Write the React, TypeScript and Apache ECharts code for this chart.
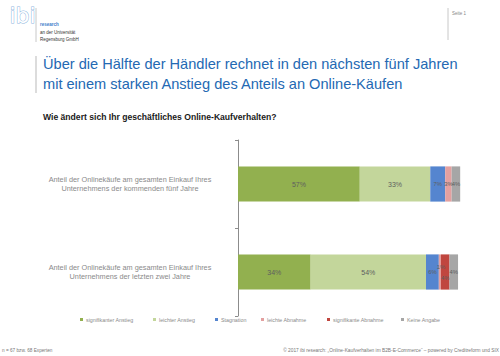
import React, { useEffect, useRef } from "react";
import * as echarts from "echarts";

const categories = [
  "Anteil der Onlinekäufe am gesamten Einkauf Ihres\nUnternehmens der kommenden fünf Jahre",
  "Anteil der Onlinekäufe am gesamten Einkauf Ihres\nUnternehmens der letzten zwei Jahre",
];
const seriesNames = [
  "signifikanter Anstieg",
  "leichter Anstieg",
  "Stagnation",
  "leichte Abnahme",
  "signifikante Abnahme",
  "Keine Angabe",
];
const signifikanterAnstieg = [57, 34];
const leichterAnstieg = [33, 54];
const stagnation = [7, 6];
const leichteAbnahme = [3, 1];
const signifikanteAbnahme = [0, 4];
const keineAngabe = [4, 4];
const seriesValues = [
  signifikanterAnstieg,
  leichterAnstieg,
  stagnation,
  leichteAbnahme,
  signifikanteAbnahme,
  keineAngabe,
];
const colors = ["#92b04f", "#c3d69b", "#5585cf", "#e3a0a0", "#c0463f", "#a6a6a6"];
const legendX = [80, 153, 215, 261, 327, 401];

const titleLines = [
  "Über die Hälfte der Händler rechnet in den nächsten fünf Jahren",
  "mit einem starken Anstieg des Anteils an Online-Käufen",
];
const subtitle = "Wie ändert sich Ihr geschäftliches Online-Kaufverhalten?";
const footerLeft = "n = 67 bzw. 68 Experten";
const footerRight =
  "© 2017 ibi research: „Online-Kaufverhalten im B2B-E-Commerce“ – powered by Creditreform und SIX";

export default function App() {
  const ref = useRef<HTMLDivElement>(null);
  useEffect(() => {
    if (!ref.current) return;
    const chart = echarts.init(ref.current, undefined, { renderer: "svg" });
    const font = "Liberation Sans, Arial, sans-serif";
    const shifts: Record<string, [number, number]> = {
      "3-1": [1, -5],
      "4-1": [0, 6],
    };
    chart.setOption({
      animation: false,
      textStyle: { fontFamily: font },
      grid: { left: 238, right: 27, top: 140, bottom: 40 },
      xAxis: { type: "value", min: 0, max: 110, show: false },
      yAxis: {
        type: "category",
        inverse: true,
        data: categories,
        axisLine: { show: true, lineStyle: { color: "#8c8c8c", width: 1 } },
        axisTick: { show: true, length: 3, lineStyle: { color: "#8c8c8c" } },
        axisLabel: {
          align: "center",
          margin: 108,
          fontSize: 7.3,
          lineHeight: 9,
          color: "#8a8a8a",
          fontFamily: font,
        },
      },
      legend: seriesNames.map((n, i) => ({
        data: [n],
        left: legendX[i],
        top: 317,
        icon: "rect",
        itemWidth: 3,
        itemHeight: 3,
        itemGap: 0,
        padding: 0,
        textStyle: { fontSize: 5.3, color: "#8a8a8a", fontFamily: font, padding: [0, 0, 0, -2] },
      })),
      series: seriesNames.map((n, i) => ({
        name: n,
        type: "bar",
        stack: "total",
        barWidth: "40%",
        data: seriesValues[i].map((v) => (v === 0 ? null : v)),
        itemStyle: { color: colors[i] },
        label: {
          show: true,
          position: "inside",
          formatter: "{c}%",
          fontSize: i >= 2 ? 5.8 : 7,
          color: "#5f5f5f",
          fontFamily: font,
          overflow: "none",
        },
        labelLayout: (p: any) => {
          const s = shifts[p.seriesIndex + "-" + p.dataIndex];
          return s ? { dx: s[0], dy: s[1], hideOverlap: false } : { hideOverlap: false };
        },
      })),
      graphic: [
        {
          type: "text",
          left: 9,
          top: 4,
          style: {
            text: "ibi",
            font: "22px 'DejaVu Sans', sans-serif",
            fill: "#ffffff",
            stroke: "#8fb6de",
            lineWidth: 1,
          },
        },
        { type: "line", shape: { x1: 36, y1: 8, x2: 36, y2: 42 }, style: { stroke: "#c8c8c8", lineWidth: 1 } },
        { type: "text", left: 40, top: 22, style: { text: "research", font: "bold 4.5px " + font, fill: "#3d7cc9" } },
        { type: "text", left: 40, top: 30, style: { text: "an der Universität", font: "4.5px " + font, fill: "#333" } },
        { type: "text", left: 40, top: 37, style: { text: "Regensburg GmbH", font: "4.5px " + font, fill: "#333" } },
        { type: "line", shape: { x1: 448, y1: 8, x2: 448, y2: 40 }, style: { stroke: "#c8c8c8", lineWidth: 1 } },
        { type: "text", left: 452, top: 11, style: { text: "Seite 1", font: "4.5px " + font, fill: "#888" } },
        { type: "line", shape: { x1: 36, y1: 56, x2: 36, y2: 93 }, style: { stroke: "#d0d0d0", lineWidth: 1.5 } },
        { type: "text", left: 43, top: 56, style: { text: titleLines[0], font: "14.6px " + font, fill: "#2469b3" } },
        { type: "text", left: 43, top: 76, style: { text: titleLines[1], font: "14.6px " + font, fill: "#2469b3" } },
        { type: "text", left: 43, top: 112, style: { text: subtitle, font: "bold 8.6px " + font, fill: "#1a1a1a" } },
        { type: "text", left: 2, top: 348, style: { text: footerLeft, font: "4.7px " + font, fill: "#777" } },
        { type: "text", right: 1, top: 348, style: { text: footerRight, font: "4.8px " + font, fill: "#777" } },
      ],
    });
    return () => chart.dispose();
  }, []);
  return (
    <div
      ref={ref}
      style={{ position: "fixed", left: 0, top: 0, width: 500, height: 356, background: "#fff" }}
    />
  );
}
